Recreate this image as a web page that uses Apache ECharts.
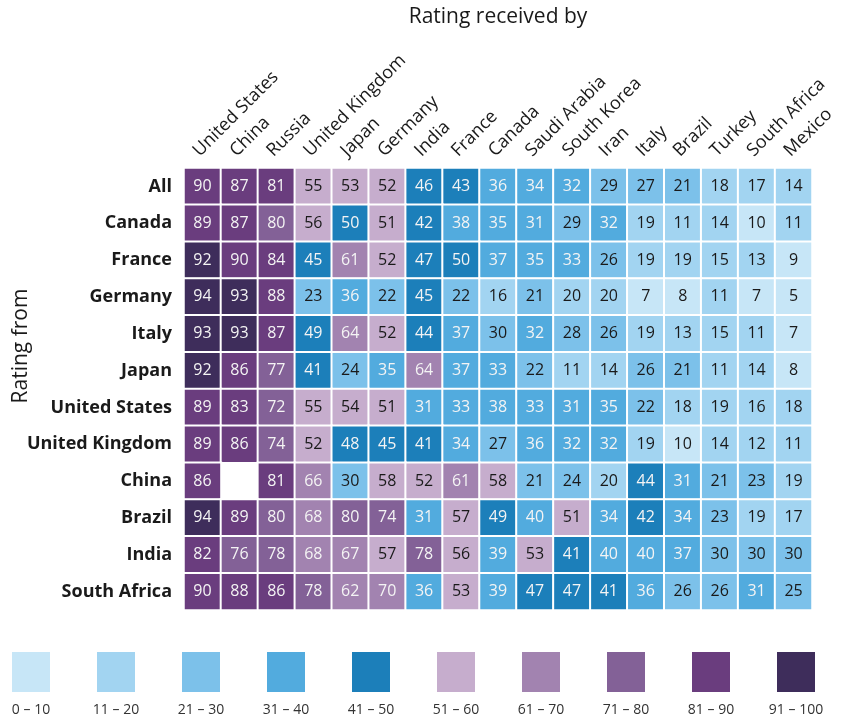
<!DOCTYPE html>
<html>
<head>
<meta charset="utf-8">
<script src="https://cdn.jsdelivr.net/npm/echarts@6/dist/echarts.min.js"></script>
<style>
  html, body { margin: 0; padding: 0; background: #fff; }
  #main { width: 843px; height: 720px; }
</style>
</head>
<body>
<div id="main"></div>
<script>
// countries receiving the rating (columns)
const receivedBy = ['United States', 'China', 'Russia', 'United Kingdom', 'Japan', 'Germany', 'India',
    'France', 'Canada', 'Saudi Arabia', 'South Korea', 'Iran', 'Italy', 'Brazil', 'Turkey', 'South Africa', 'Mexico']
// countries giving the rating (rows)
const ratingFrom = ['All', 'Canada', 'France', 'Germany', 'Italy', 'Japan', 'United States',
    'United Kingdom', 'China', 'Brazil', 'India', 'South Africa']

const rowAll = [90, 87, 81, 55, 53, 52, 46, 43, 36, 34, 32, 29, 27, 21, 18, 17, 14]
const rowCanada = [89, 87, 80, 56, 50, 51, 42, 38, 35, 31, 29, 32, 19, 11, 14, 10, 11]
const rowFrance = [92, 90, 84, 45, 61, 52, 47, 50, 37, 35, 33, 26, 19, 19, 15, 13, 9]
const rowGermany = [94, 93, 88, 23, 36, 22, 45, 22, 16, 21, 20, 20, 7, 8, 11, 7, 5]
const rowItaly = [93, 93, 87, 49, 64, 52, 44, 37, 30, 32, 28, 26, 19, 13, 15, 11, 7]
const rowJapan = [92, 86, 77, 41, 24, 35, 64, 37, 33, 22, 11, 14, 26, 21, 11, 14, 8]
const rowUS = [89, 83, 72, 55, 54, 51, 31, 33, 38, 33, 31, 35, 22, 18, 19, 16, 18]
const rowUK = [89, 86, 74, 52, 48, 45, 41, 34, 27, 36, 32, 32, 19, 10, 14, 12, 11]
const rowChina = [86, null, 81, 66, 30, 58, 52, 61, 58, 21, 24, 20, 44, 31, 21, 23, 19]
const rowBrazil = [94, 89, 80, 68, 80, 74, 31, 57, 49, 40, 51, 34, 42, 34, 23, 19, 17]
const rowIndia = [82, 76, 78, 68, 67, 57, 78, 56, 39, 53, 41, 40, 40, 37, 30, 30, 30]
const rowSouthAfrica = [90, 88, 86, 78, 62, 70, 36, 53, 39, 47, 47, 41, 36, 26, 26, 31, 25]

const rows = [rowAll, rowCanada, rowFrance, rowGermany, rowItaly, rowJapan, rowUS,
    rowUK, rowChina, rowBrazil, rowIndia, rowSouthAfrica]

// legend buckets
const bucketMin = [0, 11, 21, 31, 41, 51, 61, 71, 81, 91]
const bucketMax = [10, 20, 30, 40, 50, 60, 70, 80, 90, 100]
const bucketLabels = ['0 – 10', '11 – 20', '21 – 30', '31 – 40', '41 – 50',
    '51 – 60', '61 – 70', '71 – 80', '81 – 90', '91 – 100']
const bucketColors = ['#c7e6f7', '#a2d4f1', '#7cc1ea', '#52abde', '#1c7fba',
    '#c6adcd', '#a283b0', '#836197', '#6a3d7e', '#3e2d5b']

const FONT = 'Open Sans'

function labelColor(v) {
    if ((v >= 31 && v <= 50) || v >= 61) return '#f4f4f4'
    return '#1a1a1a'
}

const heatData = []
rows.forEach((row, r) => {
    row.forEach((v, c) => {
        if (v === null) return
        heatData.push({ value: [c, r, v], label: { color: labelColor(v) } })
    })
})

const legendLeft = 12
const legendStep = 85
const legendBox = 38

const chart = echarts.init(document.getElementById('main'), null, { renderer: 'canvas' })
chart.setOption({
    animation: false,
    textStyle: { fontFamily: FONT },
    grid: { left: 184, right: 31, top: 168, bottom: 110, outerBoundsMode: 'none' },
    xAxis: {
        type: 'category',
        position: 'top',
        data: receivedBy,
        axisLine: { show: false },
        axisTick: { show: false },
        splitLine: { show: false },
        axisLabel: {
            interval: 0,
            rotate: -45,
            margin: 8,
            verticalAlign: 'bottom',
            fontSize: 18,
            color: '#1a1a1a',
            fontFamily: FONT,
        },
    },
    yAxis: {
        type: 'category',
        inverse: true,
        data: ratingFrom,
        axisLine: { show: false },
        axisTick: { show: false },
        splitLine: { show: false },
        axisLabel: {
            interval: 0,
            margin: 12,
            fontSize: 18,
            fontWeight: 'bold',
            color: '#1a1a1a',
            fontFamily: FONT,
        },
    },
    visualMap: {
        type: 'piecewise',
        dimension: 2,
        orient: 'horizontal',
        left: legendLeft,
        top: 652,
        padding: 0,
        itemWidth: legendBox,
        itemHeight: 40,
        itemGap: legendStep - legendBox,
        itemSymbol: 'rect',
        showLabel: false,
        selectedMode: false,
        pieces: bucketMin.map((mn, i) => ({ min: mn, max: bucketMax[i], color: bucketColors[i] })),
    },
    graphic: bucketLabels.map((t, i) => ({
        type: 'text',
        x: legendLeft + i * legendStep + legendBox / 2,
        y: 710,
        style: {
            text: t,
            align: 'center',
            verticalAlign: 'middle',
            fontSize: 14,
            fill: '#333',
            fontFamily: FONT,
        },
    })).concat([{
        type: 'text',
        x: 21,
        y: 346,
        rotation: Math.PI / 2,
        style: {
            text: 'Rating from',
            fontSize: 21,
            fill: '#1a1a1a',
            fontFamily: FONT,
            align: 'center',
            verticalAlign: 'middle',
        },
    }, {
        type: 'text',
        x: 498,
        y: 17,
        style: {
            text: 'Rating received by',
            fontSize: 21,
            fill: '#1a1a1a',
            fontFamily: FONT,
            align: 'center',
            verticalAlign: 'middle',
        },
    }]),
    series: [{
        type: 'heatmap',
        data: heatData,
        itemStyle: { borderColor: '#fff', borderWidth: 2 },
        label: {
            show: true,
            fontSize: 16,
            fontFamily: FONT,
            formatter: (p) => p.value[2],
        },
        emphasis: { disabled: true },
    }],
})
</script>
</body>
</html>
